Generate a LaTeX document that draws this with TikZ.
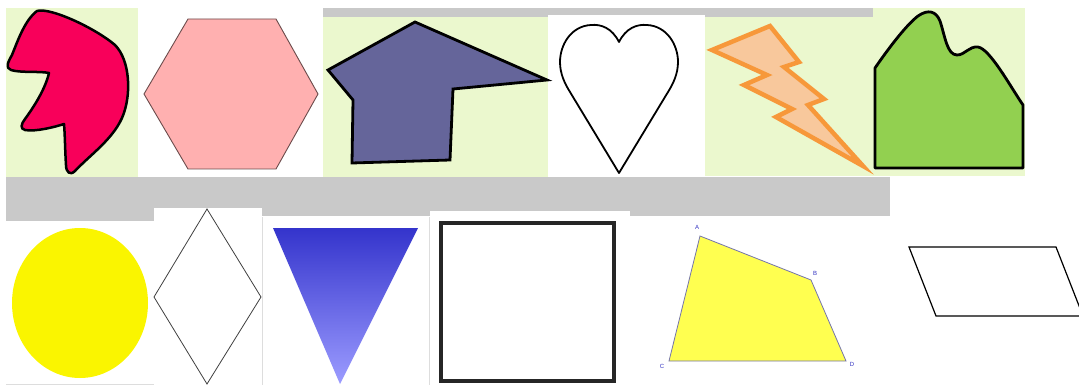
\documentclass[tikz,border=0pt]{standalone}
\usepackage{fontspec}
\setsansfont{Liberation Sans}
\definecolor{tilegreen}{HTML}{EBF8CE}
\definecolor{bargrey}{HTML}{C9C9C9}
\definecolor{blobred}{HTML}{F8005A}
\definecolor{hexpink}{HTML}{FFB0B0}
\definecolor{hexline}{HTML}{6B4B4B}
\definecolor{pentblue}{HTML}{65659A}
\definecolor{boltorange}{HTML}{F7983A}
\definecolor{boltpeach}{HTML}{F8C89C}
\definecolor{mountgreen}{HTML}{92D050}
\definecolor{circyellow}{HTML}{FAF500}
\definecolor{tritop}{HTML}{3434CC}
\definecolor{tribot}{HTML}{9C9CFF}
\definecolor{quadyellow}{HTML}{FFFF50}
\definecolor{quadline}{HTML}{7474AA}
\definecolor{labelblue}{HTML}{3030C0}
\definecolor{tileedge}{HTML}{DDDDDD}
\tikzset{
  greentile/.style={fill=tilegreen},
  whitetile/.style={fill=white},
  greybar/.style={fill=bargrey},
  thickoutline/.style={draw=black, line width=2.8pt, line join=round},
  quadlabel/.style={text=labelblue, font=\sffamily\fontsize{6}{6}\selectfont, inner sep=0pt}
}
\begin{document}
\begin{tikzpicture}[x=1pt,y=-1pt]
\useasboundingbox (0,0) rectangle (1079,385);
% grey bars
\fill[greybar] (323,8) rectangle (873,17);
\fill[greybar] (6,177) rectangle (890,216);
\fill[greybar] (6,216) rectangle (154,221);
% tiles
\fill[greentile] (6,8) rectangle (138,177);
\fill[greentile] (323,17) rectangle (548,177);
\fill[whitetile] (548,15) rectangle (705,177);
\fill[greentile] (705,17) rectangle (873,176);
\fill[greentile] (873,8) rectangle (1025,176);
\fill[whitetile] (154,208) rectangle (262,385);
\fill[whitetile] (262,217) rectangle (430,385);
\fill[whitetile] (430,211) rectangle (630,385);
\draw[tileedge, line width=0.6pt] (262.3,217) -- (262.3,385) (429.7,217) -- (429.7,385);
\draw[tileedge, line width=0.8pt] (6,384.5) -- (154,384.5);
% blob
\filldraw[fill=blobred, thickoutline, line width=2.5pt]
 (49,73) .. controls (40,71) and (20,73) .. (11,70)
 .. controls (5,68) and (8,62) .. (12,55)
 .. controls (18,40) and (25,20) .. (37,11)
 .. controls (50,7) and (95,28) .. (115,45)
 .. controls (130,60) and (132,95) .. (122,118)
 .. controls (112,140) and (90,155) .. (75,171)
 .. controls (70,176) and (66,172) .. (66,165)
 .. controls (65,150) and (65,135) .. (64,124)
 .. controls (55,127) and (35,132) .. (25,130)
 .. controls (20,129) and (21,124) .. (25,119)
 .. controls (33,108) and (45,90) .. (49,73) -- cycle;
% hexagon
\filldraw[fill=hexpink, draw=hexline, line width=0.9pt]
 (188,19) -- (276,19) -- (318,94) -- (276,169) -- (188,169) -- (144,94) -- cycle;
% pentagon-like shape
\filldraw[fill=pentblue, thickoutline, line join=miter]
 (415,22) -- (547,80) -- (453,89) -- (450,160) -- (352,163) -- (353,100) -- (328,70) -- cycle;
% heart
\draw[black, line width=1.8pt, line join=round]
 (619,42) .. controls (612,28) and (601,24) .. (591,25)
 .. controls (571,26) and (560,45) .. (560,62)
 .. controls (560,74) and (565,84) .. (570,92)
 -- (619,173) -- (668,92)
 .. controls (673,84) and (678,74) .. (678,62)
 .. controls (678,45) and (667,26) .. (647,25)
 .. controls (637,24) and (626,28) .. (619,42) -- cycle;
% lightning bolt
\filldraw[fill=boltpeach, draw=boltorange, line width=4.5pt, line join=miter, miter limit=12]
 (712,50) -- (770,26) -- (799,62) -- (784,67) -- (824,99) -- (808,105) -- (863,166)
 -- (776,117) -- (792,109) -- (744,85) -- (767,75) -- cycle;
% mountain
\filldraw[fill=mountgreen, thickoutline]
 (875,168) -- (875,68)
 .. controls (886,52) and (905,26) .. (918,16)
 .. controls (928,9) and (936,11) .. (940,21)
 .. controls (945,36) and (947,55) .. (957,55)
 .. controls (965,55) and (969,46) .. (978,47)
 .. controls (990,49) and (1010,86) .. (1023,105)
 -- (1023,168) -- cycle;
% circle
\fill[circyellow] (80,303) ellipse [x radius=68, y radius=75];
% diamond
\draw[black!75, line width=0.8pt] (207,209) -- (261,297) -- (207,384) -- (154,297) -- cycle;
% triangle
\shade[top color=tritop, bottom color=tribot] (273,228) -- (418,228) -- (340,384) -- cycle;
% square
\draw[black!85, line width=3.8pt] (441,223) rectangle (614,381);
% quadrilateral ABCD
\coordinate (qA) at (700,236);
\coordinate (qB) at (811,280);
\coordinate (qD) at (846,361);
\coordinate (qC) at (669,361);
\filldraw[fill=quadyellow, draw=quadline, line width=0.8pt] (qA) -- (qB) -- (qD) -- (qC) -- cycle;
\node[quadlabel] (lA) at (697,227) {A};
\node[quadlabel] (lB) at (815,273) {B};
\node[quadlabel] (lC) at (662,366) {C};
\node[quadlabel] (lD) at (852,364) {D};
% parallelogram
\draw[black, line width=1.2pt] (909,247) -- (1056,247) -- (1083,316) -- (936,316) -- cycle;
\end{tikzpicture}
\end{document}
